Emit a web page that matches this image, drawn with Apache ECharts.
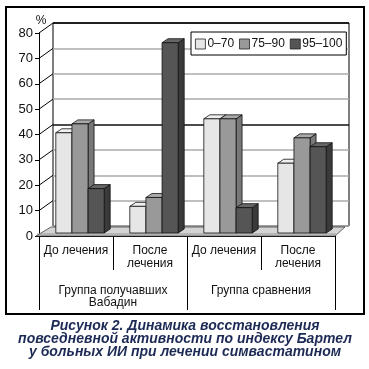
<!DOCTYPE html>
<html><head><meta charset="utf-8">
<script src="https://cdn.jsdelivr.net/npm/echarts@6/dist/echarts.min.js"></script>
<style>html,body{margin:0;padding:0;background:#fff}#c{width:369px;height:369px}</style>
</head><body><div id="c"></div>
<script>
// ---- data ----
const categories = ['До лечения', 'После\nлечения', 'До лечения', 'После\nлечения'];
const groups = ['Группа получавших\nВабадин', 'Группа сравнения'];
const seriesNames = ['0–70', '75–90', '95–100'];
const s0_70 = [39.5, 10.5, 45, 27.5];
const s75_90 = [43, 14, 45, 37.5];
const s95_100 = [17.5, 75, 10, 34];
const yTicks = [10, 20, 30, 40, 50, 60, 70, 80];
const caption = 'Рисунок 2. Динамика восстановления\nповседневной активности по индексу Бартел\nу больных ИИ при лечении симвастатином';

// ---- styles ----
const FONT = 'Liberation Sans, Arial, sans-serif';
const faces = [
  {front: '#e6e6e6', side: '#c4c4c4', top: '#f0f0f0'},
  {front: '#999999', side: '#777777', top: '#aaaaaa'},
  {front: '#555555', side: '#3a3a3a', top: '#666666'}
];
const OFF = [4, -3];   // bar front plane offset from axis front plane
const D = [6, -4];     // bar depth
const WALL = [14, -10];// wall depth
const BAR_FRAC = 0.218;

function barRender(sIdx) {
  return function (params, api) {
    const cat = api.value(0), val = api.value(1);
    const band = api.size([1, 0])[0];
    const base = api.coord([cat, 0]);
    const top = api.coord([cat, val]);
    const bw = band * BAR_FRAC;
    const x0 = base[0] - 1.5 * bw + sIdx * bw + OFF[0];
    const yb = base[1] + OFF[1];
    const yt = top[1] + OFF[1];
    const f = faces[sIdx];
    const st = {stroke: '#111', lineWidth: 0.8, lineJoin: 'round'};
    return {
      type: 'group',
      children: [
        {type: 'polygon', shape: {points: [[x0 + bw, yb], [x0 + bw, yt], [x0 + bw + D[0], yt + D[1]], [x0 + bw + D[0], yb + D[1]]]}, style: Object.assign({fill: f.side}, st)},
        {type: 'polygon', shape: {points: [[x0, yt], [x0 + bw, yt], [x0 + bw + D[0], yt + D[1]], [x0 + D[0], yt + D[1]]]}, style: Object.assign({fill: f.top}, st)},
        {type: 'rect', shape: {x: x0, y: yt, width: bw, height: yb - yt}, style: Object.assign({fill: f.front}, st)}
      ]
    };
  };
}

const chart = echarts.init(document.getElementById('c'), null, {renderer: 'canvas'});
const dataArrays = [s0_70, s75_90, s95_100];

const option = {
  animation: false,
  backgroundColor: '#fff',
  title: {
    text: caption, left: 185, top: 320, textAlign: 'center', padding: 0,
    textStyle: {fontFamily: FONT, fontSize: 14, fontWeight: 'bold', fontStyle: 'italic', color: '#1c2a55', lineHeight: 12.7, align: 'center'}
  },
  legend: {
    data: seriesNames.map(n => ({name: n, icon: 'rect'})),
    left: 191, top: 32, padding: [6, 4, 5, 4], itemGap: 5, itemWidth: 10, itemHeight: 10,
    borderColor: '#000', borderWidth: 1, backgroundColor: '#fff',
    itemStyle: {borderColor: '#222', borderWidth: 0.8},
    textStyle: {fontFamily: FONT, fontSize: 12, color: '#111', padding: [0, 0, 0, -3]}
  },
  grid: [
    {left: 39, top: 33, width: 296, height: 203, show: false},
    {left: 53, top: 23, width: 296, height: 203, show: true, backgroundColor: '#fff', borderColor: '#000', borderWidth: 1, z: -1}
  ],
  xAxis: [
    {type: 'category', gridIndex: 0, data: categories, position: 'bottom', offset: 0,
     axisLine: {show: true, lineStyle: {color: '#000', width: 1}},
     axisTick: {show: true, length: 34, interval: 0, lineStyle: {color: '#000', width: 1}},
     axisLabel: {interval: 0, fontFamily: FONT, fontSize: 12, lineHeight: 13, color: '#111', margin: 8},
     splitLine: {show: false}},
    {type: 'category', gridIndex: 0, data: groups, position: 'bottom', offset: 0,
     axisLine: {show: false},
     axisTick: {show: true, length: 74, interval: 0, lineStyle: {color: '#000', width: 1}},
     axisLabel: {interval: 0, fontFamily: FONT, fontSize: 12, lineHeight: 12, color: '#111', margin: 49},
     splitLine: {show: false}},
    {type: 'category', gridIndex: 1, data: categories, show: false}
  ],
  yAxis: [
    {type: 'value', gridIndex: 0, min: 0, max: 80, interval: 10,
     name: '%', nameLocation: 'end', nameGap: 6,
     nameTextStyle: {fontFamily: FONT, fontSize: 12, color: '#111', padding: [0, 0, 0, 4]},
     axisLine: {show: true, lineStyle: {color: '#000', width: 1}},
     axisTick: {show: true, length: 4, lineStyle: {color: '#000'}},
     axisLabel: {fontFamily: FONT, fontSize: 13, color: '#111', margin: 6},
     splitLine: {show: false}},
    {type: 'value', gridIndex: 1, min: 0, max: 80, interval: 10,
     axisLine: {show: false}, axisTick: {show: false}, axisLabel: {show: false},
     splitLine: {show: true, lineStyle: {width: 1.5, color: ['#aaa', '#aaa', '#aaa', '#aaa', '#111', '#aaa', '#aaa', '#aaa', '#000']}}}
  ],
  series: [
    {
      type: 'custom', name: 'sidewall', xAxisIndex: 0, yAxisIndex: 0, silent: true, z: 1,
      data: yTicks.map(v => [0, v]),
      renderItem: function (params, api) {
        const y = api.coord([0, api.value(1)])[1];
        const x = params.coordSys.x;
        return {type: 'line', shape: {x1: x, y1: y, x2: x + WALL[0], y2: y + WALL[1]}, style: {stroke: '#000', lineWidth: 1}};
      }
    },
    {
      type: 'custom', name: 'floor', xAxisIndex: 0, yAxisIndex: 0, silent: true, z: 1,
      data: [[0, 0]],
      renderItem: function (params, api) {
        const cs = params.coordSys;
        const yf = api.coord([0, 0])[1];
        const x = cs.x, w = cs.width;
        return {type: 'group', children: [
          {type: 'polygon', shape: {points: [[x - 3, yf], [x + w, yf], [x + w + 10, yf - 9], [x + 12, yf - 9]]},
           style: {fill: '#d4d4d4', stroke: '#444', lineWidth: 0.8}},
          {type: 'line', shape: {x1: x - 2, y1: yf - 2, x2: x + w + 1, y2: yf - 2}, style: {stroke: '#888', lineWidth: 0.8}}
        ]};
      }
    }
  ].concat(seriesNames.map((n, i) => ({
    type: 'custom', name: n, xAxisIndex: 0, yAxisIndex: 0, z: 3 + i,
    itemStyle: {color: faces[i].front},
    data: dataArrays[i].map((v, k) => [k, v]),
    renderItem: barRender(i)
  }))),
  graphic: [
    {type: 'rect', shape: {x: 6, y: 7, width: 358, height: 307}, style: {fill: 'none', stroke: '#000', lineWidth: 2}, z: 100, silent: true}
  ]
};
chart.setOption(option);
</script>
</body></html>
